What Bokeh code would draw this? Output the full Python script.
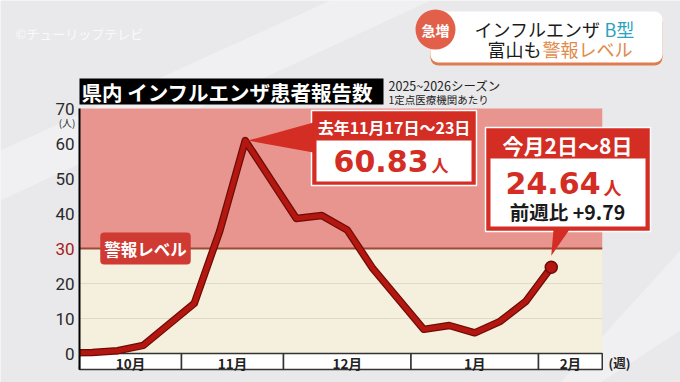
from bokeh.plotting import figure
from bokeh.models import Range1d, Label, BoxAnnotation
from bokeh.core.properties import value
from bokeh.embed import file_html
from bokeh.resources import INLINE

# ---------------- data ----------------
week_idx = list(range(-1, 19))          # weekly slots (0 = first October week)
patients = [0.2, 0.3, 0.8, 2.3, 8.3, 14.3, 35.0, 60.83, 49.7, 38.6,
            39.4, 35.3, 24.3, 15.6, 6.9, 8.0, 5.9, 9.2, 14.85, 24.64]
months = ["10月", "11月", "12月", "1月", "2月"]
month_start = [-0.5, 3.5, 7.5, 12.5, 17.5]
month_end = [3.5, 7.5, 12.5, 17.5, 20.0]
y_ticks = [0, 10, 20, 30, 40, 50, 60, 70]
alert_level = 30
grid_vals = [10, 20]
peak_label = "去年11月17日～23日"
latest_label = "今月2日～8日"

# ---------------- helpers (page pixel -> data) ----------------
def X(px):
    return -0.5 + (px - 79) / 25.5

def Y(py):
    return (353 - py) / 3.5

JP = "Noto Sans CJK JP"
NUM = "DejaVu Sans"
BG = "#e9e9eb"
RED = "#d32d24"
W, H = 680, 382

p = figure(width=W, height=H,
           x_range=Range1d(X(0), X(W)), y_range=Range1d(Y(H), Y(0)),
           output_backend="svg", toolbar_location=None,
           x_axis_location=None, y_axis_location=None,
           min_border=0, min_border_left=0, min_border_right=0,
           min_border_top=0, min_border_bottom=0,
           background_fill_color=BG, border_fill_color=BG, outline_line_color=None)
for g in p.grid:
    g.visible = False

x0, x1 = month_start[0], month_end[-1]
top = y_ticks[-1]

# subtle background streaks
p.patch(x=[X(0), X(330), X(430), X(0)], y=[Y(150), Y(0), Y(0), Y(200)],
        fill_color="white", fill_alpha=0.35, line_color=None)
p.patch(x=[X(560), X(680), X(680), X(600)], y=[Y(382), Y(250), Y(330), Y(382)],
        fill_color="white", fill_alpha=0.35, line_color=None)

# background bands
p.quad(left=[x0], right=[x1], bottom=[0], top=[alert_level], fill_color="#f4f0dd", line_color=None)
p.quad(left=[x0], right=[x1], bottom=[alert_level], top=[top], fill_color="#e8958f", line_color=None)
p.segment(x0=[x0] * len(grid_vals), x1=[x1] * len(grid_vals), y0=grid_vals, y1=grid_vals,
          line_color="#dfdac8", line_width=1)
p.segment(x0=[x0], x1=[x1], y0=[alert_level], y1=[alert_level], line_color="#9b4a36", line_width=2)

# month boxes
p.quad(left=month_start, right=month_end, bottom=Y(369), top=0,
       fill_color="white", line_color="#333333", line_width=1.5)
p.text(x=[(a + b) / 2 for a, b in zip(month_start, month_end)], y=[Y(362)] * len(months),
       text=months, text_font=value(JP), text_font_style="bold", text_font_size="13.5px",
       text_color="#222222", text_align="center", text_baseline="middle")
p.text(x=[X(619)], y=[Y(362)], text=["(週)"], text_font=value(JP), text_font_style="bold",
       text_font_size="12.5px", text_color="#222222", text_align="center", text_baseline="middle")

# data line
p.line(week_idx, patients, line_color="#6e0b08", line_width=7.5, line_join="round")
p.line(week_idx, patients, line_color="#b3170f", line_width=5, line_join="round")
p.scatter(x=[week_idx[-1]], y=[patients[-1]], size=12, fill_color="#b3170f",
          line_color="#6e0b08", line_width=1.5)

# mask the lead-in week left of the axis
p.quad(left=[X(40)], right=[x0], top=[Y(340)], bottom=[Y(366)], fill_color=BG, line_color=None)

# axis line and tick labels
p.segment(x0=[x0], x1=[x0], y0=[Y(369)], y1=[top], line_color="black", line_width=2)
p.text(x=[X(74)] * len(y_ticks), y=y_ticks, text=[str(t) for t in y_ticks],
       text_font=value("Roboto"), text_font_size="17px",
       text_color=["#a61b1b" if t == alert_level else "#2b2b2b" for t in y_ticks],
       text_align="right", text_baseline="middle")
p.text(x=[X(75)], y=[Y(122)], text=["(人)"], text_font=value(JP), text_font_size="10px",
       text_color="#2b2b2b", text_align="right", text_baseline="middle")

# title
p.quad(left=[X(79)], right=[X(383)], top=[Y(78)], bottom=[Y(104)], fill_color="black", line_color=None)
p.text(x=[X(81)], y=[Y(91.5)], text=["県内 インフルエンザ患者報告数"], text_font=value(JP),
       text_font_style="bold", text_font_size="20.5px", text_color="white",
       text_align="left", text_baseline="middle")
p.text(x=[X(388)], y=[Y(85)], text=["2025~2026シーズン"], text_font=value(JP),
       text_font_size="12.5px", text_color="#222222", text_align="left", text_baseline="middle")
p.text(x=[X(388)], y=[Y(99)], text=["1定点医療機関あたり"], text_font=value(JP),
       text_font_size="10.5px", text_color="#222222", text_align="left", text_baseline="middle")

# peak callout
i_peak = patients.index(max(patients))
pk_x, pk_y = week_idx[i_peak], patients[i_peak]
p.quad(left=[X(311)], right=[X(476)], top=[Y(110)], bottom=[Y(185)], fill_color=RED,
       line_color="white", line_width=1.5)
p.patch(x=[X(313), X(313), pk_x + 0.1], y=[Y(122), Y(152), pk_y], fill_color=RED, line_color=None)
p.quad(left=[X(316)], right=[X(471)], top=[Y(140)], bottom=[Y(181)], fill_color="white", line_color=None)
p.text(x=[X(393.5)], y=[Y(126)], text=[peak_label], text_font=value(JP), text_font_style="bold",
       text_font_size="16px", text_color="white", text_align="center", text_baseline="middle")
p.text(x=[X(428)], y=[Y(160)], text=[f"{pk_y:.2f}"], text_font=value(NUM), text_font_style="bold",
       text_font_size="30px", text_color=RED, text_align="right", text_baseline="middle")
p.text(x=[X(431)], y=[Y(164)], text=["人"], text_font=value(JP), text_font_style="bold",
       text_font_size="17px", text_color=RED, text_align="left", text_baseline="middle")

# latest callout
lt_x, lt_y = week_idx[-1], patients[-1]
diff = patients[-1] - patients[-2]
p.quad(left=[X(485)], right=[X(650)], top=[Y(127)], bottom=[Y(231)], fill_color=RED,
       line_color="white", line_width=1.5)
p.patch(x=[X(553), X(569), lt_x], y=[Y(229), Y(229), lt_y + 3.3], fill_color=RED, line_color=None)
p.quad(left=[X(490)], right=[X(645)], top=[Y(158)], bottom=[Y(226)], fill_color="white", line_color=None)
p.text(x=[X(567)], y=[Y(144)], text=[latest_label], text_font=value(JP), text_font_style="bold",
       text_font_size="21px", text_color="white", text_align="center", text_baseline="middle")
p.text(x=[X(600)], y=[Y(182)], text=[f"{lt_y:.2f}"], text_font=value(NUM), text_font_style="bold",
       text_font_size="30px", text_color=RED, text_align="right", text_baseline="middle")
p.text(x=[X(603)], y=[Y(186)], text=["人"], text_font=value(JP), text_font_style="bold",
       text_font_size="18px", text_color=RED, text_align="left", text_baseline="middle")
p.text(x=[X(567)], y=[Y(211)], text=[f"前週比 +{diff:.2f}"], text_font=value(JP),
       text_font_style="bold", text_font_size="19.5px", text_color="#1a1a1a",
       text_align="center", text_baseline="middle")

# alert level tag
p.add_layout(Label(x=X(145), y=alert_level, text="警報レベル", text_font=JP, text_font_style="bold",
                   text_font_size="16.5px", text_color="white", text_align="center",
                   text_baseline="middle", background_fill_color="#cf3b33",
                   padding=4, border_radius=4))

# watermark
p.add_layout(Label(x=X(15), y=Y(33), text="©チューリップテレビ", text_font=JP,
                   text_font_size="13px", text_color="#f9f9f9", text_align="left",
                   text_baseline="middle"))

# top-right headline box
p.add_layout(BoxAnnotation(left=X(430), right=X(662), top=Y(14), bottom=Y(65),
                           fill_color="#e07a50", fill_alpha=1, line_color=None, border_radius=8))
p.add_layout(BoxAnnotation(left=X(430), right=X(662), top=Y(11), bottom=Y(62),
                           fill_color="white", fill_alpha=1, line_color=None, border_radius=8))
p.add_layout(BoxAnnotation(left=X(415), right=X(455), top=Y(9), bottom=Y(49),
                           fill_color="#e2604a", fill_alpha=1, line_color=None, border_radius=20))
p.add_layout(Label(x=X(435), y=Y(29), text="急増", text_font=JP, text_font_style="bold",
                   text_font_size="14px", text_color="white", text_align="center",
                   text_baseline="middle"))
p.add_layout(Label(x=X(600), y=Y(28), text="インフルエンザ", text_font=JP,
                   text_font_size="18px", text_color="#1a1a1a", text_align="right",
                   text_baseline="middle"))
p.add_layout(Label(x=X(604), y=Y(28), text="B型", text_font=JP,
                   text_font_size="18px", text_color="#2aa3c0", text_align="left",
                   text_baseline="middle"))
p.add_layout(Label(x=X(541), y=Y(48), text="富山も", text_font=JP,
                   text_font_size="18px", text_color="#1a1a1a", text_align="right",
                   text_baseline="middle"))
p.add_layout(Label(x=X(542), y=Y(48), text="警報レベル", text_font=JP,
                   text_font_size="18px", text_color="#e08a4c", text_align="left",
                   text_baseline="middle"))

open("out.html", "w").write(file_html(p, INLINE))
